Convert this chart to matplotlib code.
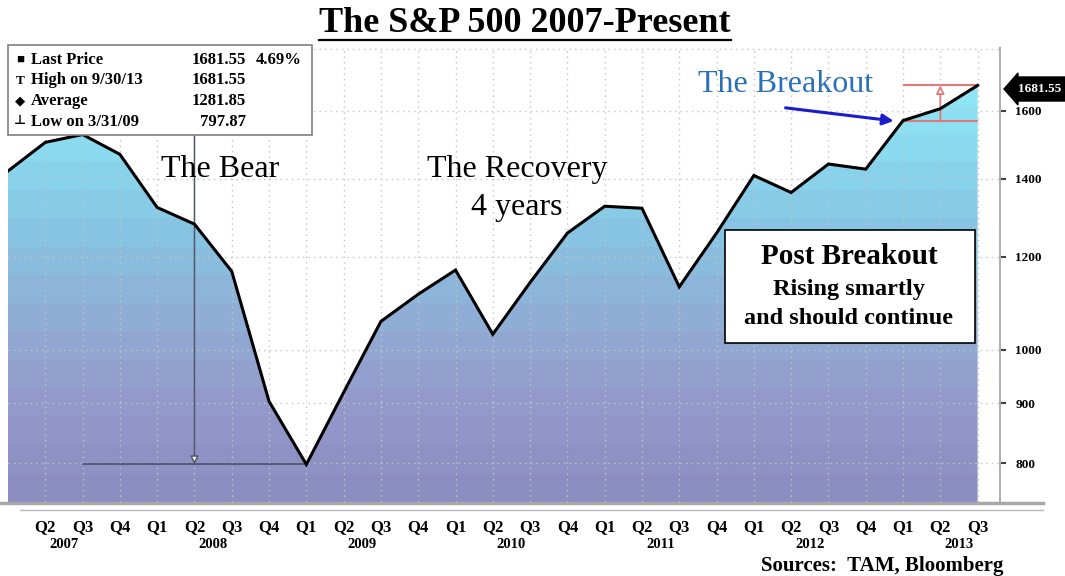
import numpy as np
import matplotlib
matplotlib.use("Agg")
import matplotlib.pyplot as plt
from matplotlib.colors import LinearSegmentedColormap
from matplotlib.patches import Polygon, Rectangle
from matplotlib.lines import Line2D
from matplotlib.ticker import NullLocator, FixedLocator
from matplotlib.transforms import blended_transform_factory

# ----------------------------------------------------------------------
# Data: S&P 500 quarter-end closes, Q1 2007 .. Q3 2013
# ----------------------------------------------------------------------
quarters = ["Q1", "Q2", "Q3", "Q4"] * 6 + ["Q1", "Q2", "Q3"]
years = ["2007", "2008", "2009", "2010", "2011", "2012", "2013"]
closes = [1420.86, 1503.35, 1526.75, 1468.36,
          1322.70, 1280.00, 1166.36, 903.25,
          797.87, 919.32, 1057.08, 1115.10,
          1169.43, 1030.71, 1141.20, 1257.64,
          1325.83, 1320.64, 1131.42, 1257.60,
          1408.47, 1362.16, 1440.67, 1426.19,
          1569.19, 1606.28, 1681.55]
ytick_values = [800, 900, 1000, 1200, 1400, 1600]

legend_rows = [("\u25A0", "Last Price", "1681.55", "4.69%"),
               ("T", "High on 9/30/13", "1681.55", ""),
               ("\u25C6", "Average", "1281.85", ""),
               ("\u22A5", "Low on 3/31/09", "797.87", "")]

low_value = 797.87
breakout_value = 1569.19
last_value = 1681.55

plt.rcParams["font.family"] = ["Liberation Serif", "DejaVu Sans"]

W, H = 1065, 576


def fx(x):
    return x / W


def fy(y):
    return 1 - y / H


fig = plt.figure(figsize=(W / 100, H / 100), dpi=100)
ax = fig.add_axes([fx(8), fy(502), (1000 - 8) / W, (502 - 48) / H])

x = np.arange(len(closes))
ymin, ymax = 741, 1810

# gradient fill under the line, clipped to the area polygon
cmap = LinearSegmentedColormap.from_list(
    "spx", [(0.0, "#8c8ec2"), (0.18, "#9499ca"), (0.38, "#90aed7"),
            (0.58, "#87c6e4"), (0.75, "#8adbf0"), (1.0, "#95effb")])
levels = np.floor(np.linspace(0, 1, 400) * 16) / 16
grad = cmap(levels[::-1])[:, None, :]
im = ax.imshow(grad, extent=(0, 1, 0, 1), transform=ax.transAxes,
               aspect="auto", zorder=1, interpolation="nearest")
verts = [(x[0], ymin)] + list(zip(x, closes)) + [(x[-1], ymin)]
clip = Polygon(verts, closed=True, transform=ax.transData,
               facecolor="none", edgecolor="none")
ax.add_patch(clip)
im.set_clip_path(clip)

ax.set_yscale("log")
ax.set_xlim(0, 26.6)
ax.set_ylim(ymin, ymax)

# dotted grid
grid_kw = dict(color="#c4c4c4", lw=1, ls=(0, (1, 3)), zorder=2)
for yv in ytick_values + [ymax * 0.998]:
    ax.axhline(yv, **grid_kw)
for i in x[1:]:
    ax.axvline(i, **grid_kw)

ax.plot(x, closes, color="black", lw=2.2, zorder=4, solid_joinstyle="miter")

# axes styling
for side in ["top", "left", "bottom"]:
    ax.spines[side].set_visible(False)
ax.spines["right"].set_color("#b0b0b0")
ax.spines["right"].set_linewidth(1.5)

ax.yaxis.set_ticks_position("right")
ax.yaxis.set_major_locator(FixedLocator(ytick_values))
ax.yaxis.set_minor_locator(NullLocator())
ax.set_yticklabels([str(v) for v in ytick_values])
ax.tick_params(axis="y", direction="out", length=4, width=1.5,
               color="#404040", pad=7, labelsize=9.5)
for lab in ax.get_yticklabels():
    lab.set_fontweight("bold")

ax.set_xticks(x[1:])
ax.set_xticklabels(quarters[1:])
ax.tick_params(axis="x", length=0, pad=12, labelsize=12)
for lab in ax.get_xticklabels():
    lab.set_fontweight("bold")

tr = blended_transform_factory(ax.transData, fig.transFigure)
for k, yr in enumerate(years):
    ax.text(4 * k + 1.5, fy(545), yr, transform=tr, ha="center",
            va="center", fontsize=10.5, fontweight="bold")

# bottom axis lines
fig.add_artist(Line2D([fx(0), fx(1043)], [fy(503), fy(503)],
                      color="#a8a8a8", lw=2.5))
fig.add_artist(Line2D([fx(20), fx(1043)], [fy(510), fy(510)],
                      color="#b8b8b8", lw=1))

# the bear: low line and drop arrow
ax.plot([2, 8], [low_value, low_value], color="#4a5068", lw=1.2, zorder=3)
ax.annotate("", xy=(5, low_value), xycoords="data",
            xytext=(5, fy(135)), textcoords=("data", "figure fraction"),
            arrowprops=dict(arrowstyle="-|>", ec="#505868", fc="white",
                            lw=1.1, mutation_scale=12, shrinkA=0, shrinkB=0),
            zorder=3)

# breakout markers
ax.hlines([last_value, breakout_value], 24, 26, colors="#e07a7a",
          lw=1.5, zorder=3)
ax.annotate("", xy=(25, last_value), xytext=(25, breakout_value),
            arrowprops=dict(arrowstyle="-|>", ec="#e07a7a", fc="white",
                            lw=1.3, mutation_scale=12, shrinkA=0, shrinkB=0),
            zorder=3)
ax.annotate("", xy=(23.75, 1568), xytext=(20.85, 1609),
            arrowprops=dict(arrowstyle="-|>", color="#1a1ad0", lw=2.2,
                            mutation_scale=16, shrinkA=0, shrinkB=0),
            zorder=5)

# chart annotations, placed by baseline in pixel rows
ax.text(20.85, fy(92), "The Breakout", transform=tr, color="#2a70b8",
        fontsize=23, ha="center", va="baseline", zorder=5)
ax.text(5.7, fy(177), "The Bear", transform=tr, fontsize=23,
        ha="center", va="baseline", zorder=5)
ax.text(13.65, fy(177), "The Recovery", transform=tr, fontsize=23,
        ha="center", va="baseline", zorder=5)
ax.text(13.65, fy(215), "4 years", transform=tr, fontsize=23,
        ha="center", va="baseline", zorder=5)

# legend box (top-left)
fig.add_artist(Rectangle((fx(8), fy(135)), (312 - 8) / W, (135 - 45) / H,
                         transform=fig.transFigure, facecolor="white",
                         edgecolor="#808080", lw=1.2, zorder=6))
for r, (sym, name, val, extra) in enumerate(legend_rows):
    yy = fy(60 + r * 20.5)
    fig.text(fx(20), yy, sym, ha="center", va="center", fontsize=9.5,
             fontweight="bold", zorder=7)
    fig.text(fx(31), yy, name, ha="left", va="center", fontsize=12,
             fontweight="bold", zorder=7)
    fig.text(fx(246), yy, val, ha="right", va="center", fontsize=12,
             fontweight="bold", zorder=7)
    if extra:
        fig.text(fx(302), yy, extra, ha="right", va="center",
                 fontsize=12, fontweight="bold", zorder=7)

# post breakout box
fig.add_artist(Rectangle((fx(725), fy(343)), 250 / W, 113 / H,
                         transform=fig.transFigure, facecolor="white",
                         edgecolor="black", lw=1.2, zorder=6))
fig.text(fx(849), fy(256), "Post Breakout", ha="center", va="center",
         fontsize=21, fontweight="bold", zorder=7)
fig.text(fx(849), fy(290), "Rising smartly", ha="center", va="center",
         fontsize=17.5, fontweight="bold", zorder=7)
fig.text(fx(849), fy(319), "and should continue", ha="center",
         va="center", fontsize=17.5, fontweight="bold", zorder=7)

# last price flag on the right axis
flag = [(1004, 89), (1018, 73), (1018, 77), (1065, 77), (1065, 101),
        (1018, 101), (1018, 105)]
fig.add_artist(Polygon([(fx(a), fy(b)) for a, b in flag], closed=True,
                       transform=fig.transFigure, facecolor="black",
                       edgecolor="black", zorder=6))
fig.text(fx(1040), fy(89), f"{last_value:.2f}", color="white", ha="center",
         va="center", fontsize=9.5, fontweight="bold", zorder=7)

# title with underline
title = fig.text(fx(525), fy(24), "The S&P 500 2007-Present", ha="center",
                 va="center", fontsize=26, fontweight="bold")
fig.canvas.draw()
bb = title.get_window_extent().transformed(fig.transFigure.inverted())
fig.add_artist(Line2D([bb.x0, bb.x1], [fy(40), fy(40)], color="black",
                      lw=1.6))

fig.text(fx(882), fy(566), "Sources:  TAM, Bloomberg", ha="center",
         va="center", fontsize=15, fontweight="bold")

fig.savefig("out.png", dpi=100)
